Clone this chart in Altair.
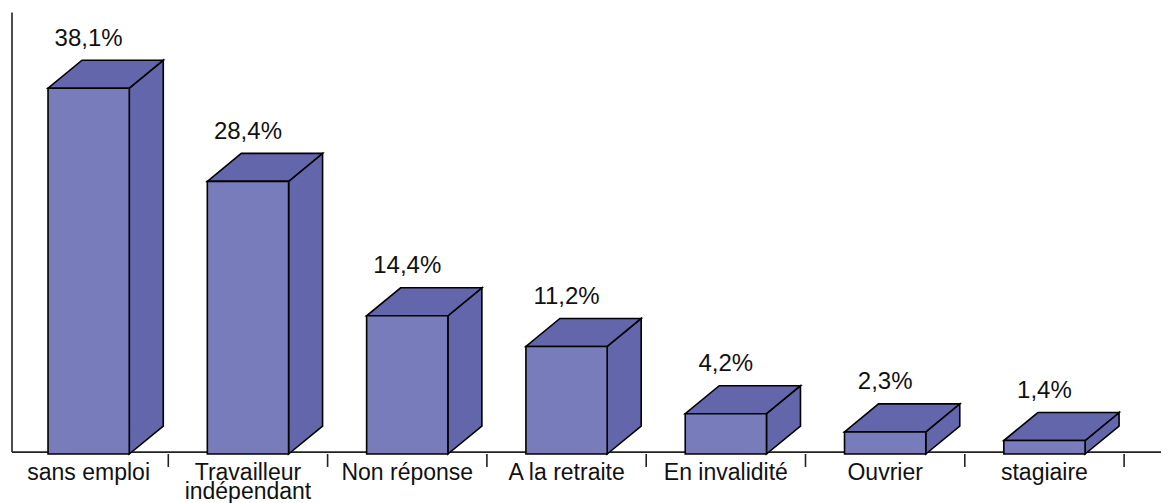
import altair as alt
import pandas as pd

categories = ["sans emploi", "Travailleur\nindépendant", "Non réponse", "A la retraite",
              "En invalidité", "Ouvrier", "stagiaire"]
values = [38.1, 28.4, 14.4, 11.2, 4.2, 2.3, 1.4]
value_labels = ["38,1%", "28,4%", "14,4%", "11,2%", "4,2%", "2,3%", "1,4%"]

W, H = 1153, 495
PX_X, PX_Y = 159.3, 9.6
x_dom = [-1 / PX_X, (W - 1) / PX_X]
y_dom = [-(H - 446) / PX_Y, 446 / PX_Y]
xs = alt.Scale(domain=x_dom, nice=False, zero=False)
ys = alt.Scale(domain=y_dom, nice=False, zero=False)

L, R = 0.245, 0.755
DX, DY = 34 / PX_X, 28 / PX_Y

FRONT = "#797cba"
DARK = "#6466ac"
FONT = "Liberation Sans"
FS = 24
FS_CAT = 23

n = len(values)
front = pd.DataFrame({
    "x": [i + L for i in range(n)], "x2": [i + R for i in range(n)],
    "y": [0.0] * n, "y2": values,
})
side_rows, top_rows = [], []
for i, v in enumerate(values):
    l, r = i + L, i + R
    side_rows += [
        {"g": i, "x": r, "y": 0, "y2": v},
        {"g": i, "x": r + DX, "y": DY, "y2": v + DY},
    ]
    top_rows += [
        {"g": i, "x": l, "y": v, "y2": v},
        {"g": i, "x": l + DX, "y": v, "y2": v + DY},
        {"g": i, "x": r, "y": v, "y2": v + DY},
        {"g": i, "x": r + DX, "y": v + DY, "y2": v + DY},
    ]
side = pd.DataFrame(side_rows)
top = pd.DataFrame(top_rows)

value_df = pd.DataFrame({
    "x": [i + 0.5 for i in range(n)],
    "y": [v + DY + 2.25 for v in values],
    "t": value_labels,
})
cat_df = pd.DataFrame({
    "x": [i + 0.5 for i in range(n)],
    "y": [-0.85] * n,
    "t": categories,
})
tick_df = pd.DataFrame({"x": [i + 1 for i in range(n)], "y": [0.0] * n, "y2": [-1.35] * n})
xaxis_df = pd.DataFrame({"x": [3 / PX_X], "x2": [x_dom[1]], "y": [0.2]})
yaxis_df = pd.DataFrame({"x": [3 / PX_X], "y": [0.2], "y2": [46.0]})

X = alt.X("x:Q", scale=xs, axis=None)
Y = alt.Y("y:Q", scale=ys, axis=None, stack=None)

axis_x = alt.Chart(xaxis_df).mark_rule(color="#222222", strokeWidth=1.6).encode(X, alt.X2("x2:Q"), Y)
axis_y = alt.Chart(yaxis_df).mark_rule(color="#222222", strokeWidth=1.6).encode(X, Y, alt.Y2("y2:Q"))
ticks = alt.Chart(tick_df).mark_rule(color="#222222", strokeWidth=1.6).encode(X, Y, alt.Y2("y2:Q"))

area_kw = dict(color=DARK, stroke="black", strokeWidth=1.6, opacity=1, orient="vertical",
               interpolate="linear", strokeJoin="miter")
side_l = alt.Chart(side).mark_area(**area_kw).encode(X, Y, alt.Y2("y2:Q"), detail="g:N")
top_l = alt.Chart(top).mark_area(**area_kw).encode(X, Y, alt.Y2("y2:Q"), detail="g:N")
front_l = alt.Chart(front).mark_rect(color=FRONT, stroke="black", strokeWidth=1.6).encode(
    X, alt.X2("x2:Q"), Y, alt.Y2("y2:Q"))

val_t = alt.Chart(value_df).mark_text(font=FONT, fontSize=FS, color="#111111", baseline="middle").encode(
    X, Y, text="t:N")
cat_t = alt.Chart(cat_df).mark_text(font=FONT, fontSize=FS_CAT, color="#111111", baseline="top",
                                    lineBreak="\n", lineHeight=19).encode(X, Y, text="t:N")

chart = alt.layer(
    axis_x, axis_y, ticks, side_l, top_l, front_l, val_t, cat_t
).properties(
    width=W, height=H, padding=0, autosize=alt.AutoSizeParams(type="none"), background="white"
).configure_view(stroke=None)

chart.save("out.html", embed_options={"renderer": "svg", "actions": False})
